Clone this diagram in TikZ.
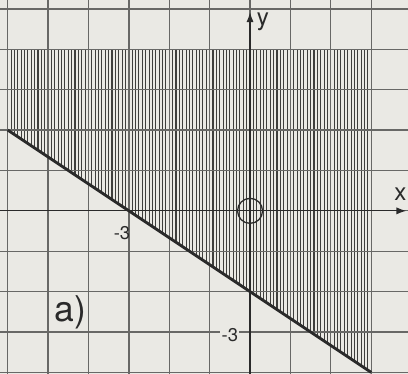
\documentclass[tikz,border=0pt]{standalone}
\usepackage{fontspec}
\setsansfont{TeX Gyre Heros}
\usetikzlibrary{arrows.meta}
\definecolor{PaperBack}{HTML}{EAE9E4}
\definecolor{GridInk}{HTML}{686866}
\definecolor{HatchInk}{HTML}{3E3E3C}
\definecolor{LineInk}{HTML}{2A2A2A}

\begin{document}
\begin{tikzpicture}[font=\sffamily,>=Latex]
\tikzset{
  gridline/.style={draw=GridInk,line width=0.9pt},
  hatch/.style={draw=HatchInk,line width=0.75pt},
  axis/.style={draw=LineInk,line width=0.9pt,-{Latex[length=7pt,width=5pt]}},
  border/.style={draw=LineInk,line width=2pt},
  tick/.style={font=\sffamily\fontsize{13}{15}\selectfont,text=LineInk},
  axlabel/.style={font=\sffamily\fontsize{17}{20}\selectfont,text=LineInk}
}
\fill[PaperBack] (-6.19,-4.03) rectangle (3.91,5.22);
\useasboundingbox (-6.19,-4.03) rectangle (3.91,5.22);
% hatched half-plane
\begin{scope}
\clip (-6,2) -- (-6,4) -- (3,4) -- (3,-4) -- cycle;
\foreach \i in {0,...,108}
  \draw[hatch] (-6+\i/12,-4.1) -- (-6+\i/12,4.1);
\end{scope}
\draw[gridline] (-6.19,-4.03) grid (3.91,5.22);
% boundary line
\coordinate (lstart) at (-6,2);
\coordinate (lend) at (3,-4);
\draw[border] (lstart) -- (lend);
% axes
\coordinate (xleft) at (-6.19,0);
\coordinate (xright) at (3.87,0);
\coordinate (ybottom) at (0,-4.03);
\coordinate (ytop) at (0,4.92);
\draw[axis] (xleft) -- (xright);
\draw[axis] (ybottom) -- (ytop);
\node[draw=LineInk,circle,line width=0.9pt,minimum size=0.62cm,inner sep=0pt] (origin) at (0,0) {};
\node[axlabel] (ylab) at (0.32,4.68) {y};
\node[axlabel] (xlab) at (3.72,0.42) {x};
\node[tick] (xtick) at (-3.17,-0.54) {-3};
\node[tick,fill=PaperBack,inner sep=1pt] (ytick) at (-0.5,-3.07) {-3};
\node[font=\sffamily\fontsize{25}{28}\selectfont,text=LineInk] (part) at (-4.45,-2.52) {a)};
\end{tikzpicture}
\end{document}
